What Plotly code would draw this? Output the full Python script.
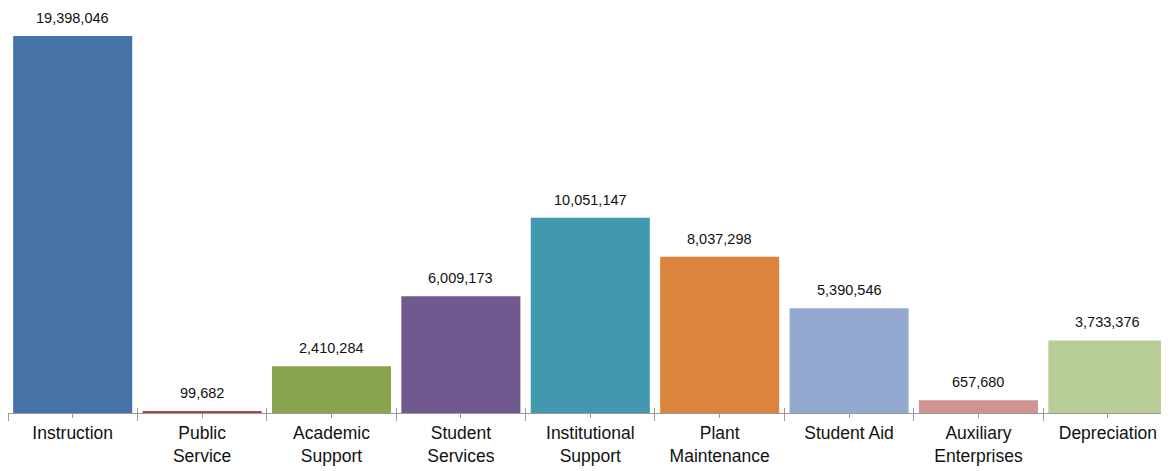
import plotly.graph_objects as go

categories = ["Instruction", "Public<br>Service", "Academic<br>Support", "Student<br>Services",
              "Institutional<br>Support", "Plant<br>Maintenance", "Student Aid",
              "Auxiliary<br>Enterprises", "Depreciation"]
values = [19398046, 99682, 2410284, 6009173, 10051147, 8037298, 5390546, 657680, 3733376]
colors = ["#4572A7", "#AA4643", "#89A54E", "#71588F", "#4198AF", "#DB843D", "#93A9CF", "#D19392", "#B9CD96"]

FONT = "Liberation Sans, Arial, sans-serif"

fig = go.Figure()
fig.add_trace(go.Bar(
    x=categories, y=values, marker=dict(color=colors, line=dict(width=0)),
    hoverinfo="x+y",
))
# helper traces for extra tick styles
for ax in ["x2", "x3"]:
    fig.add_trace(go.Bar(x=categories, y=values, xaxis=ax, yaxis="y",
                         marker=dict(opacity=0), hoverinfo="skip", showlegend=False))

for c, v in zip(categories, values):
    fig.add_annotation(x=c, y=v, text=f"{v:,}", showarrow=False, yanchor="bottom",
                       yshift=8, font=dict(family=FONT, size=14.5, color="#111"))

axis_common = dict(showgrid=False, zeroline=False, tickcolor="#999999",
                   range=[-0.5, 8.457], automargin=False)
fig.update_layout(
    width=1161, height=463,
    margin=dict(l=0, r=2, t=2, b=58),
    paper_bgcolor="white", plot_bgcolor="white",
    bargap=0.08, barmode="overlay",
    showlegend=False,
    xaxis=dict(**axis_common, showline=True, linecolor="#999999", linewidth=1,
               tickson="boundaries", ticks="outside", ticklen=7, tickwidth=1,
               tickangle=0, ticklabelstandoff=4,
               tickfont=dict(family=FONT, size=17.5, color="#111")),
    xaxis2=dict(**axis_common, overlaying="x", anchor="y", showline=False,
                tickson="boundaries", ticks="inside", ticklen=5, tickwidth=1,
                showticklabels=False),
    xaxis3=dict(**axis_common, overlaying="x", anchor="y", showline=False,
                ticks="outside", ticklen=4, tickwidth=1, showticklabels=False),
    yaxis=dict(range=[0, 20736000], visible=False, automargin=False),
)
fig.write_html("out.html")
